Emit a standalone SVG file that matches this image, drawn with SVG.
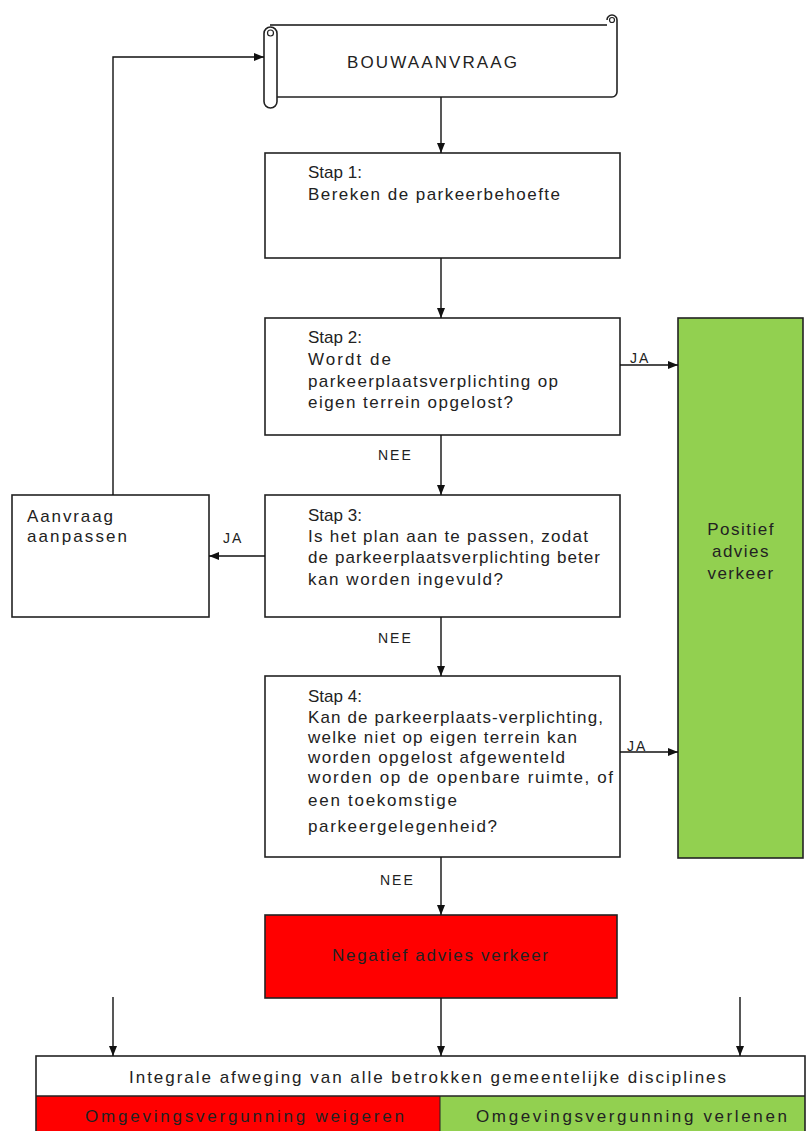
<svg xmlns="http://www.w3.org/2000/svg" width="807" height="1131" viewBox="0 0 807 1131">
<style>
.box{fill:#fff;stroke:#222;stroke-width:1.6}
.t{font-family:"Liberation Sans",Arial,sans-serif;font-size:17px;fill:#222}
.lbl{font-family:"Liberation Sans",Arial,sans-serif;font-size:14px;fill:#222;letter-spacing:2px}
.c{stroke:#111;stroke-width:1.4;fill:none}
</style>
<defs>
<marker id="ah" markerUnits="userSpaceOnUse" markerWidth="10" markerHeight="8" refX="10" refY="4" orient="auto">
<path d="M0,0 L10,4 L0,8 z" fill="#111"/>
</marker>
</defs>
<rect width="807" height="1131" fill="#fff"/>

<g id="bouwaanvraag">
<rect x="272" y="25" width="340" height="72" fill="#fff"/>
<path d="M270 25 H607" class="c" stroke-width="1.6"/>
<path d="M607 20 A5 5 0 0 1 617 20 V92 A5 5 0 0 1 612 97 H277" fill="none" stroke="#222" stroke-width="1.6"/>
<circle cx="612" cy="20" r="2.5" fill="none" stroke="#222" stroke-width="1.2"/>
<rect x="264" y="27" width="13" height="81" rx="6.5" class="box"/>
<circle cx="270.5" cy="33" r="3" fill="none" stroke="#222" stroke-width="1.2"/>
<text class="t" x="347" y="68" textLength="170" lengthAdjust="spacing">BOUWAANVRAAG</text>
</g>

<g id="stap1">
<rect x="265" y="153" width="355" height="105" class="box"/>
<text class="t" x="308" y="178">Stap 1:</text>
<text class="t" x="308" y="200" textLength="252" lengthAdjust="spacing">Bereken de parkeerbehoefte</text>
</g>

<g id="stap2">
<rect x="265" y="318" width="355" height="117" class="box"/>
<text class="t" x="308" y="343">Stap 2:</text>
<text class="t" x="308" y="365" textLength="83" lengthAdjust="spacing">Wordt de</text>
<text class="t" x="308" y="387" textLength="250" lengthAdjust="spacing">parkeerplaatsverplichting op</text>
<text class="t" x="308" y="408" textLength="205" lengthAdjust="spacing">eigen terrein opgelost?</text>
</g>

<g id="stap3">
<rect x="265" y="495" width="355" height="122" class="box"/>
<text class="t" x="308" y="521">Stap 3:</text>
<text class="t" x="308" y="542" textLength="280" lengthAdjust="spacing">Is het plan aan te passen, zodat</text>
<text class="t" x="308" y="563" textLength="292" lengthAdjust="spacing">de parkeerplaatsverplichting beter</text>
<text class="t" x="308" y="585" textLength="195" lengthAdjust="spacing">kan worden ingevuld?</text>
</g>

<g id="aanvraag-aanpassen">
<rect x="12" y="495" width="197" height="122" class="box"/>
<text class="t" x="27" y="522" textLength="86" lengthAdjust="spacing">Aanvraag</text>
<text class="t" x="27" y="542" textLength="100" lengthAdjust="spacing">aanpassen</text>
</g>

<g id="stap4">
<rect x="265" y="676" width="355" height="181" class="box"/>
<text class="t" x="308" y="702">Stap 4:</text>
<text class="t" x="308" y="723" textLength="295" lengthAdjust="spacing">Kan de parkeerplaats-verplichting,</text>
<text class="t" x="308" y="743" textLength="269" lengthAdjust="spacing">welke niet op eigen terrein kan</text>
<text class="t" x="308" y="763" textLength="257" lengthAdjust="spacing">worden opgelost afgewenteld</text>
<text class="t" x="308" y="783" textLength="305" lengthAdjust="spacing">worden op de openbare ruimte, of</text>
<text class="t" x="308" y="806" textLength="149" lengthAdjust="spacing">een toekomstige</text>
<text class="t" x="308" y="832" textLength="189" lengthAdjust="spacing">parkeergelegenheid?</text>
</g>

<g id="positief">
<rect x="678" y="318" width="125" height="540" fill="#92d050" stroke="#222" stroke-width="1.6"/>
<text class="t" x="741" y="535" text-anchor="middle" fill="#1e2e12" style="letter-spacing:1.5px">Positief</text>
<text class="t" x="741" y="557" text-anchor="middle" fill="#1e2e12" style="letter-spacing:1.5px">advies</text>
<text class="t" x="741" y="579" text-anchor="middle" fill="#1e2e12" style="letter-spacing:1.5px">verkeer</text>
</g>

<g id="negatief">
<rect x="265" y="915" width="352" height="83" fill="#ff0000" stroke="#222" stroke-width="1.6"/>
<text class="t" x="332" y="961" font-size="16" fill="#a00000" textLength="216" lengthAdjust="spacing">Negatief advies verkeer</text>
</g>

<g id="integrale-afweging">
<rect x="36" y="1096" width="404" height="40" fill="#ff0000"/>
<rect x="440" y="1096" width="365" height="40" fill="#92d050"/>
<rect x="36" y="1056" width="769" height="80" fill="none" stroke="#222" stroke-width="1.6"/>
<line x1="36" y1="1096" x2="805" y2="1096" stroke="#222" stroke-width="1.6"/>
<line x1="440" y1="1096" x2="440" y2="1131" stroke="#222" stroke-width="1"/>
<text class="t" x="129" y="1083" textLength="597" lengthAdjust="spacing">Integrale afweging van alle betrokken gemeentelijke disciplines</text>
<text class="t" x="85" y="1122" fill="#a00000" textLength="319" lengthAdjust="spacing">Omgevingsvergunning weigeren</text>
<text class="t" x="476" y="1122" fill="#1e2e12" textLength="311" lengthAdjust="spacing">Omgevingsvergunning verlenen</text>
</g>

<g id="connectors">
<path class="c" d="M441 97 V153" marker-end="url(#ah)"/>
<path class="c" d="M441 258 V318" marker-end="url(#ah)"/>
<path class="c" d="M620 365 H678" marker-end="url(#ah)"/>
<text class="lbl" x="630" y="363">JA</text>
<path class="c" d="M441 435 V495" marker-end="url(#ah)"/>
<text class="lbl" x="378" y="460">NEE</text>
<path class="c" d="M265 556 H209" marker-end="url(#ah)"/>
<text class="lbl" x="223" y="543">JA</text>
<path class="c" d="M113 495 V57 H264" marker-end="url(#ah)"/>
<path class="c" d="M441 617 V676" marker-end="url(#ah)"/>
<text class="lbl" x="378" y="643">NEE</text>
<path class="c" d="M620 752 H678" marker-end="url(#ah)"/>
<text class="lbl" x="627" y="751">JA</text>
<path class="c" d="M441 857 V915" marker-end="url(#ah)"/>
<text class="lbl" x="380" y="885">NEE</text>
<path class="c" d="M441 998 V1056" marker-end="url(#ah)"/>
<path class="c" d="M113 997 V1056" marker-end="url(#ah)"/>
<path class="c" d="M740 997 V1056" marker-end="url(#ah)"/>
</g>
</svg>
